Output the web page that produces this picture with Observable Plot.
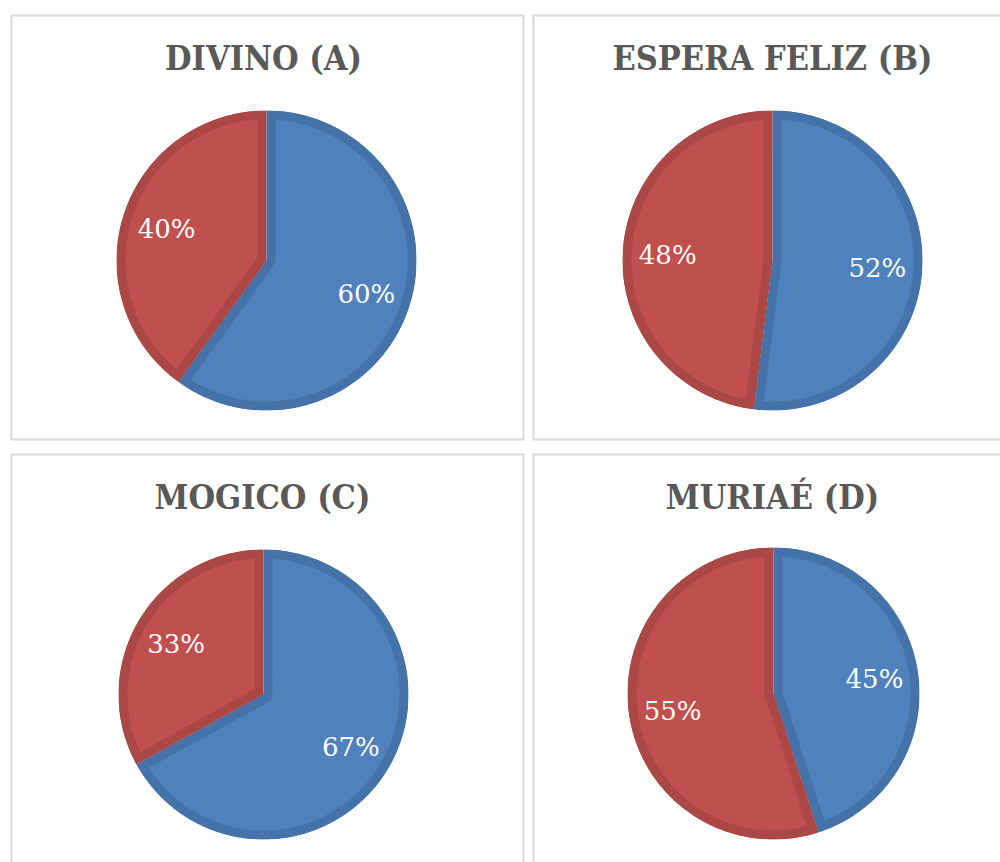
<!DOCTYPE html>
<html>
<head>
<meta charset="utf-8">
<script src="https://cdn.jsdelivr.net/npm/d3@7"></script>
<script src="https://cdn.jsdelivr.net/npm/@observablehq/plot@0.6"></script>
<style>
  html, body { margin: 0; padding: 0; background: #fff; overflow: hidden; }
  body { width: 1000px; height: 862px; position: relative; }
  .panel { position: absolute; }
  .panel svg { display: block; overflow: visible; max-width: none !important; }
</style>
</head>
<body>
<script>
// ---- data ----
const regions = ["DIVINO (A)", "ESPERA FELIZ (B)", "MOGICO (C)", "MURIAÉ (D)"];
const series = ["Série 1", "Série 2"];
const blueValues = [60, 52, 67, 45];
const redValues = [40, 48, 33, 55];

// ---- styles ----
const palette = ["#4F81BD", "#C0504D"];
const bandPalette = ["#4572A9", "#AB4744"];
const layout = [
  {left: 10,  top: 14,  width: 514, height: 426, cx: 256, cy: 246, r: 150, tdx: -4},
  {left: 532, top: 14,  width: 480, height: 426, cx: 240, cy: 246, r: 150, tdx: 0},
  {left: 10,  top: 453, width: 514, height: 420, cx: 253, cy: 241, r: 145, tdx: -5},
  {left: 532, top: 453, width: 480, height: 420, cx: 241, cy: 240, r: 146, tdx: 0}
];

regions.forEach((region, i) => {
  const L = layout[i];
  const values = [blueValues[i], redValues[i]];
  const total = d3.sum(values);
  // slice geometry derived from the values
  const polys = [];
  const labels = [];
  let acc = 0;
  values.forEach((v, k) => {
    const a0 = acc / total * 2 * Math.PI;
    const a1 = (acc + v) / total * 2 * Math.PI;
    acc += v;
    const pts = [{series: series[k], x: 0, y: 0}];
    const n = Math.max(2, Math.ceil((a1 - a0) / (Math.PI / 360)));
    for (let s = 0; s <= n; s++) {
      const a = a0 + (a1 - a0) * s / n;
      pts.push({series: series[k], x: Math.sin(a), y: Math.cos(a)});
    }
    pts.push({series: series[k], x: 0, y: 0});
    polys.push(pts);
    const m = (a0 + a1) / 2;
    labels.push({x: 0.7 * Math.sin(m), y: 0.7 * Math.cos(m), text: `${v}%`});
  });

  const plot = Plot.plot({
    width: L.width,
    height: L.height,
    margin: 0,
    x: {domain: [-1, 1], range: [L.cx - L.r, L.cx + L.r], axis: null},
    y: {domain: [-1, 1], range: [L.cy + L.r, L.cy - L.r], axis: null},
    style: {background: "transparent", overflow: "visible", maxWidth: "none"},
    marks: [
      Plot.frame({stroke: "#d9d9d9", strokeWidth: 2, inset: 1}),
      ...polys.map((pts, k) => Plot.line(pts, {
        x: "x", y: "y", z: "series",
        fill: palette[k], stroke: bandPalette[k], strokeWidth: 18,
        strokeLinejoin: "round", strokeLinecap: "round", curve: "linear"
      })),
      Plot.text(labels, {
        x: "x", y: "y", text: "text", fill: "white", dy: 2,
        fontSize: 26, fontFamily: "DejaVu Serif", textAnchor: "middle", lineAnchor: "middle"
      }),
      Plot.text([region], {
        frameAnchor: "top", lineAnchor: "top", text: d => d, dy: 31, dx: L.tdx,
        fill: "#595959", fontSize: 34, fontWeight: "bold",
        fontFamily: "'DejaVu Serif Condensed', 'DejaVu Serif', serif"
      })
    ]
  });

  // clip each slice's band to its own shape so the stroke sits inside it
  const svg = d3.select(plot);
  const defs = svg.append("defs");
  svg.selectAll('g[aria-label="line"] path').each(function(_, j) {
    const id = `clip-${i}-${j}`;
    defs.append("clipPath").attr("id", id)
      .append("path").attr("d", this.getAttribute("d"));
    this.setAttribute("clip-path", `url(#${id})`);
  });
  svg.selectAll('g[aria-label="text"]').filter((_, j, nodes) => j === nodes.length - 1)
    .selectAll("text").style("font-stretch", "condensed");

  const div = document.createElement("div");
  div.className = "panel";
  div.style.left = L.left + "px";
  div.style.top = L.top + "px";
  div.style.width = L.width + "px";
  div.style.height = L.height + "px";
  div.appendChild(plot);
  document.body.appendChild(div);
});
</script>
</body>
</html>
